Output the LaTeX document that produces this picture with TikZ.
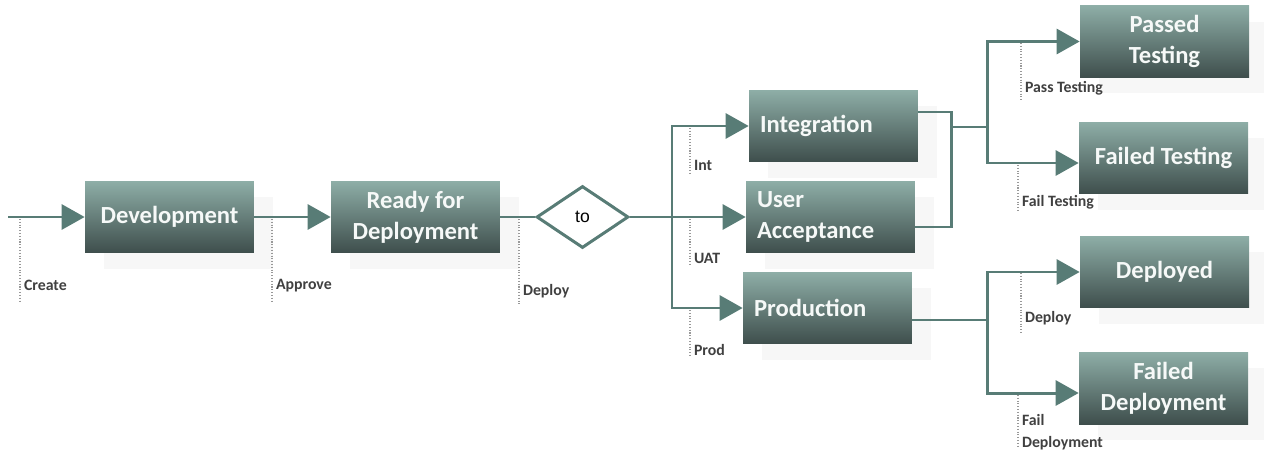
\documentclass[tikz,border=0pt]{standalone}
\usepackage{fontspec}
\setmainfont{Carlito}
\newfontfamily\arialfont{Liberation Sans}
\usetikzlibrary{shapes.geometric, arrows.meta, positioning, calc, shadows}
\definecolor{boxtop}{RGB}{142,174,167}
\definecolor{boxbot}{RGB}{62,78,76}
\definecolor{flowc}{RGB}{88,124,118}
\definecolor{lbltext}{RGB}{64,64,64}
\definecolor{shade}{RGB}{247,247,247}

\begin{document}
\begin{tikzpicture}[x=0.02cm, y=-0.02cm,
    box/.style={rectangle, top color=boxtop, bottom color=boxbot,
                minimum width=3.38cm, minimum height=1.44cm, inner sep=0pt,
                align=center, text=white!92!boxtop,
                font=\fontsize{14}{17.5}\selectfont\bfseries,
                drop shadow={shadow xshift=0.38cm, shadow yshift=-0.32cm, fill=shade, opacity=1}},
    lbox/.style={box, align=left, text width=2.94cm},
    decision/.style={diamond, aspect=1.5, draw=flowc, line width=1.7pt, fill=white,
                minimum width=1.84cm, minimum height=1.24cm, inner sep=0pt,
                font=\arialfont\fontsize{10}{12}\selectfont},
    flow/.style={draw=flowc, line width=1.7pt},
    arr/.style={flow, -{Triangle[length=0.46cm, width=0.5cm]}},
    tick/.style={draw=gray!80, densely dotted, line width=0.6pt},
    lbl/.style={font=\fontsize{9}{12.5}\selectfont\bfseries, text=lbltext,
                inner xsep=2pt, inner ysep=0pt, align=left}]

    \useasboundingbox (0,0) rectangle (1264,450);

    % States
    \node[box] (dev) at (169.5,217) {Development};
    \node[box] (ready) at (415.5,217) {Ready for\\Deployment};
    \node[decision] (todiam) at (582.5,217) {to};
    \node[lbox] (integ) at (833.5,126) {Integration};
    \node[lbox] (uat) at (830.5,217) {User\\Acceptance};
    \node[lbox] (prod) at (827.5,308) {Production};
    \node[box] (passed) at (1164.5,41.5) {Passed\\Testing};
    \node[box] (failtest) at (1163.5,158) {Failed Testing};
    \node[box] (deployed) at (1164.5,272) {Deployed};
    \node[box] (faildep) at (1163.5,388) {Failed\\Deployment};

    % Main flow
    \coordinate (start) at (8,217);
    \draw[arr] (start) -- (dev);
    \draw[arr] (dev) -- (ready);
    \draw[flow] (ready) -- (todiam);
    \draw[flow] (todiam.east) -- ++(42,0) coordinate (split);
    \draw[arr] (split) |- (integ.west);
    \draw[arr] (split) -- (uat.west);
    \draw[arr] (split) |- (prod.west);

    % Testing branch
    \draw[flow] ($(integ.east)+(0,-14)$) -| ($(uat.east)+(36,10)$) -- ($(uat.east)+(0,10)$);
    \coordinate (tjoin) at (951,127);
    \coordinate (tsplit) at (987,127);
    \draw[flow] (tjoin) -- (tsplit);
    \draw[arr] (tsplit) |- (passed.west);
    \draw[arr] (tsplit) |- ($(failtest.west)+(0,5)$);

    % Deployment branch
    \draw[flow] ($(prod.east)+(0,12)$) -- ++(75,0) coordinate (dsplit);
    \draw[arr] (dsplit) |- (deployed.west);
    \draw[arr] (dsplit) |- ($(faildep.west)+(0,5)$);

    % Transition labels
    \draw[tick] (20,219) -- (20,302) node[lbl, pos=0.8, right] (lcreate) {Create};
    \draw[tick] (272,219) -- (272,302) node[lbl, pos=0.8, right] (lapprove) {Approve};
    \draw[tick] (519,219) -- (519,305) node[lbl, pos=0.84, right] (ldeploy) {Deploy};
    \draw[tick] (690,128) -- (690,173) node[lbl, pos=0.84, right] (lint) {Int};
    \draw[tick] (690,219) -- (690,265) node[lbl, pos=0.85, right] (luat) {UAT};
    \draw[tick] (690,310) -- (690,357) node[lbl, pos=0.85, right] (lprod) {Prod};
    \draw[tick] (1021,43) -- (1021,102) node[lbl, pos=0.76, right] (lpass) {Pass Testing};
    \draw[tick] (1018,165) -- (1018,211) node[lbl, pos=0.8, right] (lfailtest) {Fail Testing};
    \draw[tick] (1021,273) -- (1021,333) node[lbl, pos=0.75, right] (ldeployed) {Deploy};
    \draw[tick] (1018,395) -- (1018,447) node[lbl, pos=0.71, right] (lfaildep) {Fail\\Deployment};
\end{tikzpicture}
\end{document}
